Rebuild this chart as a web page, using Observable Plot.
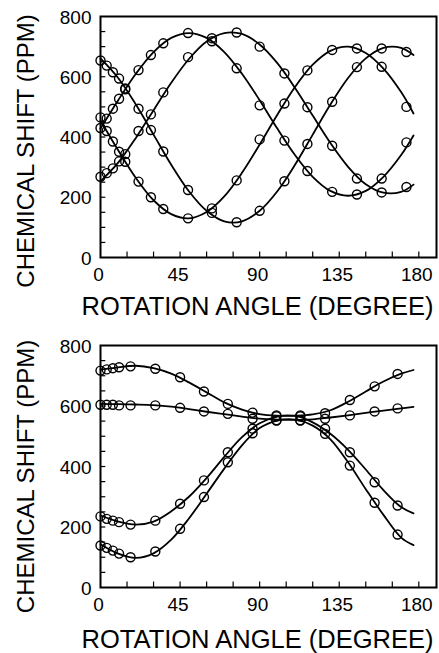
<!DOCTYPE html>
<html><head><meta charset="utf-8">
<script src="https://cdn.jsdelivr.net/npm/d3@7"></script>
<script src="https://cdn.jsdelivr.net/npm/@observablehq/plot@0.6"></script>
<style>
body{margin:0;background:#fff;}
#chart{width:439px;}
svg{display:block;overflow:visible;}
</style></head><body><div id="chart"></div>
<script>
// ---- shared axis data ----
const xTickLabels = [0, 45, 90, 135, 180];
const yTickLabels = [0, 200, 400, 600, 800];
const xMinorTicks = [15, 30, 45, 60, 75, 90, 105, 120, 135, 150, 165, 180];
const yMinorTicks = [50, 100, 150, 200, 250, 300, 350, 400, 450, 500, 550, 600, 650, 700, 750];
const xLabel = "ROTATION ANGLE (DEGREE)";
const yLabel = "CHEMICAL SHIFT (PPM)";

// ---- top panel: measured points ----
const topPointAngles = [0, 3.5, 7, 10.5, 14, 21.5, 28.5, 35.5, 49.5, 63, 77, 90, 104, 117, 131, 145, 159, 173];
const topPts1 = [430, 461, 494, 527, 558, 622, 672, 711, 745, 718, 628, 505, 388, 287, 218, 209, 262, 382];
const topPts2 = [268, 280, 296, 319, 343, 420, 475, 548, 665, 728, 747, 700, 611, 499, 371, 262, 216, 234];
const topPts3 = [465, 420, 385, 351, 318, 252, 200, 161, 130, 163, 256, 392, 511, 621, 689, 694, 633, 500];
const topPts4 = [654, 637, 615, 594, 561, 494, 423, 352, 224, 148, 117, 155, 253, 377, 517, 632, 694, 682];
// ---- top panel: fitted curves ----
const topCurveAngles = [0, 10, 20, 30, 40, 50, 60, 70, 80, 90, 100, 110, 120, 130, 140, 150, 160, 170, 177];
const topCurve1 = [428, 522, 610, 682, 729, 745, 729, 682, 610, 522, 428, 340, 268, 221, 205, 221, 268, 340, 405];
const topCurve2 = [253, 315, 397, 489, 580, 659, 717, 745, 742, 707, 645, 563, 471, 380, 301, 243, 215, 218, 242];
const topCurve3 = [455, 356, 264, 190, 144, 130, 151, 203, 281, 375, 474, 566, 640, 686, 700, 679, 627, 549, 478];
const topCurve4 = [661, 596, 508, 408, 308, 220, 155, 120, 120, 155, 220, 308, 408, 508, 596, 661, 696, 696, 672];

// ---- bottom panel: measured points ----
const botPointAngles = [0, 3.5, 7, 10.5, 17, 31, 45, 58.5, 72, 86, 99.5, 113, 127, 141, 155, 168];
const botPts1 = [717, 721, 725, 728, 731, 723, 695, 648, 607, 578, 569, 569, 576, 620, 665, 706];
const botPts2 = [604, 604, 604, 602, 602, 602, 594, 582, 574, 558, 552, 552, 558, 569, 582, 592];
const botPts3 = [235, 227, 221, 216, 208, 221, 277, 354, 447, 525, 566, 566, 525, 447, 348, 271];
const botPts4 = [139, 131, 122, 112, 100, 119, 194, 299, 414, 510, 553, 553, 508, 403, 280, 175];
// ---- bottom panel: fitted curves ----
const botCurveAngles = [0, 10, 20, 30, 40, 50, 60, 70, 80, 90, 100, 110, 120, 130, 140, 150, 160, 170, 177];
const botCurve1 = [720, 728, 733, 725, 707, 678, 645, 612, 588, 573, 568, 568, 572, 586, 614, 648, 681, 707, 719];
const botCurve2 = [607, 606, 605, 603, 598, 590, 581, 573, 565, 558, 555, 554, 556, 562, 569, 577, 585, 592, 597];
const botCurve3 = [238, 218, 208, 218, 252, 300, 362, 432, 497, 543, 565, 567, 546, 508, 455, 390, 322, 266, 245];
const botCurve4 = [143, 112, 98, 113, 158, 228, 310, 393, 470, 527, 552, 555, 535, 490, 414, 325, 240, 165, 140];

function toRows(angles, series) {
  const rows = [];
  series.forEach((s, k) => s.forEach((v, i) => rows.push({a: angles[i], v, k})));
  return rows;
}

const FONT = "'Liberation Sans', Arial, Helvetica, sans-serif";

function panel({height, marginTop, marginBottom, pts, crv, xLabelDy, yLabelDy}) {
  return Plot.plot({
    width: 439, height, marginLeft: 100, marginRight: 3, marginTop, marginBottom,
    x: {domain: [0, 190]},
    y: {domain: [0, 800]},
    style: {fontFamily: FONT, color: "#000", background: "#fff", overflow: "visible"},
    marks: [
      Plot.ruleX(xMinorTicks, {x: d => d, y1: 0, y2: 18, stroke: "black", strokeWidth: 1.2}),
      Plot.ruleY(yMinorTicks, {y: d => d, x1: 0, x2: 3, stroke: "black", strokeWidth: 1.2}),
      Plot.axisX(xTickLabels, {tickSize: 0, tickPadding: 10, fontSize: 19, label: null, dx: -2}),
      Plot.axisY(yTickLabels, {tickSize: 0, tickPadding: 9, fontSize: 19, label: null, dy: 1}),
      Plot.line(crv, {x: "a", y: "v", z: "k", curve: "catmull-rom", stroke: "black", strokeWidth: 1.8}),
      Plot.dot(pts, {x: "a", y: "v", r: 4.5, stroke: "black", strokeWidth: 1.4, fill: "none"}),
      Plot.frame({stroke: "black", strokeWidth: 2}),
      Plot.text([xLabel], {text: d => d, frameAnchor: "bottom", textAnchor: "middle", lineAnchor: "middle",
        dx: -11, dy: xLabelDy, fontSize: 25.5, fill: "black"}),
      Plot.text([yLabel], {text: d => d, frameAnchor: "left", textAnchor: "middle", lineAnchor: "middle",
        dx: -74, dy: yLabelDy, rotate: -90, fontSize: 24, fill: "black"})
    ]
  });
}

const chart = document.getElementById("chart");
chart.append(panel({
  height: 330, marginTop: 16, marginBottom: 73,
  pts: toRows(topPointAngles, [topPts1, topPts2, topPts3, topPts4]),
  crv: toRows(topCurveAngles, [topCurve1, topCurve2, topCurve3, topCurve4]),
  xLabelDy: 49, yLabelDy: 14
}));
chart.append(panel({
  height: 323, marginTop: 15, marginBottom: 66,
  pts: toRows(botPointAngles, [botPts1, botPts2, botPts3, botPts4]),
  crv: toRows(botCurveAngles, [botCurve1, botCurve2, botCurve3, botCurve4]),
  xLabelDy: 52, yLabelDy: 10
}));
</script></body></html>
